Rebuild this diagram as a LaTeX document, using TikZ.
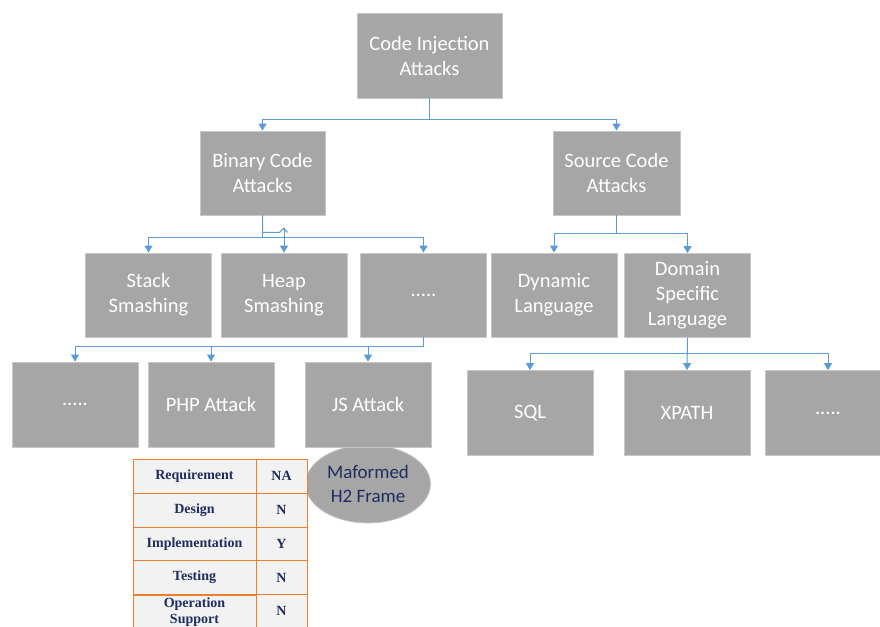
\documentclass[tikz,border=0pt]{standalone}
\usepackage{fontspec}
\setmainfont{Carlito}
\newfontfamily\tabfont{Liberation Serif}
\usetikzlibrary{arrows.meta,shapes.geometric}
\definecolor{boxgray}{RGB}{166,166,166}
\definecolor{boxline}{RGB}{200,200,200}
\definecolor{linkblue}{RGB}{91,155,213}
\definecolor{navy}{RGB}{31,45,95}
\definecolor{tabline}{RGB}{237,125,49}
\definecolor{tabfill}{RGB}{242,242,242}

\begin{document}
\begin{tikzpicture}[x=1pt, y=-1pt, thick]
\tikzstyle{every node}=[font=\fontsize{20.5}{25}\selectfont, align=center]
\tikzstyle{box}=[rectangle, fill=boxgray, draw=boxline, line width=0.8pt, text=white, minimum width=126pt, minimum height=85pt, inner sep=2pt]
\tikzstyle{link}=[draw=linkblue, line width=1pt, -{Triangle[width=8pt,length=7pt]}]
\tikzstyle{cell}=[rectangle, fill=tabfill, draw=tabline, line width=1pt, minimum height=34pt, inner sep=1pt, text=navy, font=\tabfont\bfseries\fontsize{14}{16}\selectfont]

\clip (0,0) rectangle (880,626);

\node[ellipse, fill=boxgray, draw=boxline, line width=0.8pt, minimum width=125pt, minimum height=78pt, inner sep=0pt, text=navy, font=\fontsize{19}{24}\selectfont] (h2) at (368,484) {Maformed\\H2 Frame};

\node[box, minimum width=145pt] (root) at (429.5,55.5) {Code Injection\\Attacks};

\node[box, minimum width=125pt, minimum height=84pt] (bin) at (262.5,173) {Binary Code\\Attacks};
\node[box, minimum width=127pt, minimum height=84pt] (src) at (616.5,173) {Source Code\\Attacks};

\node[box, minimum height=84pt] (stack) at (148.5,295) {Stack\\Smashing};
\node[box, minimum height=84pt] (heap) at (284,295) {Heap\\Smashing};
\node[box, minimum height=84pt] (bmore) at (423.5,295) {.....};
\node[box, minimum height=84pt] (dyn) at (554,295) {Dynamic\\Language};
\node[box, minimum height=84pt] (dsl) at (687.5,295.5) {Domain\\Specific\\Language};

\node[box] (amore) at (75,404.5) {.....};
\node[box] (php) at (211,404.5) {PHP Attack};
\node[box] (js) at (368,404.5) {JS Attack};

\node[box] (sql) at (530,413) {SQL};
\node[box] (xpath) at (687,413) {XPATH};
\node[box] (smore) at (828,413) {.....};

\node[cell, minimum width=123pt] (req) at (194.5,476) {Requirement};
\node[cell, minimum width=51pt] (reqv) at (281.5,476) {NA};
\node[cell, minimum width=123pt] (des) at (194.5,510) {Design};
\node[cell, minimum width=51pt] (desv) at (281.5,510) {N};
\node[cell, minimum width=123pt] (imp) at (194.5,544) {Implementation};
\node[cell, minimum width=51pt] (impv) at (281.5,544) {Y};
\node[cell, minimum width=123pt] (tst) at (194.5,577.5) {Testing};
\node[cell, minimum width=51pt] (tstv) at (281.5,577.5) {N};
\node[cell, minimum width=123pt, align=center] (ops) at (194.5,612) {Operation\\Support};
\node[cell, minimum width=51pt] (opsv) at (281.5,611) {N};

\draw[link] (root.south) -- ++(0,21) -| (bin.north);
\draw[link] (root.south) -- ++(0,21) -| (src.north);

\draw[link] (bin.south) -- ++(0,22) -| (stack.north);
\draw[link] (bin.south) -- ++(0,22) -| (bmore.north);
\draw[draw=linkblue, line width=1pt] (bin.south) -- ++(0,17) -- ++(17,0) -- ++(4,-4) -- ++(4,4);
\draw[link] (heap.north) ++(0,-25) -- (heap.north);

\draw[link] (src.south) -- ++(0,18) -| (dyn.north);
\draw[link] (src.south) -- ++(0,18) -| (dsl.north);

\draw[link] (bmore.south) -- ++(0,9) -| (amore.north);
\draw[link] (bmore.south) -- ++(0,9) -| (php.north);
\draw[link] (bmore.south) -- ++(0,9) -| (js.north);

\draw[link] (dsl.south) -- ++(0,16) -| (sql.north);
\draw[link] (dsl.south) -- (xpath.north);
\draw[link] (dsl.south) -- ++(0,16) -| (smore.north);
\end{tikzpicture}
\end{document}
